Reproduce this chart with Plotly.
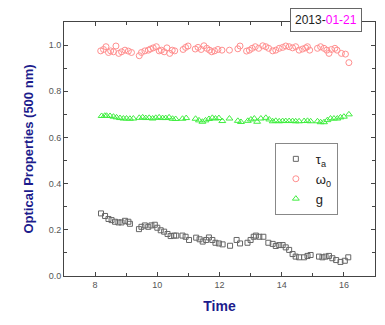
import plotly.graph_objects as go

# tau_a (squares)
tau_t = [8.19, 8.32, 8.43, 8.53, 8.64, 8.75, 8.85, 8.96, 9.07, 9.12, 9.41, 9.49, 9.60, 9.71, 9.81,
         9.92, 10.00, 10.11, 10.22, 10.33, 10.43, 10.54, 10.61, 10.81, 10.91, 11.02, 11.25, 11.36,
         11.46, 11.57, 11.66, 11.77, 11.87, 11.98, 12.10, 12.34, 12.55, 12.66, 12.90, 13.00, 13.10,
         13.17, 13.28, 13.41, 13.57, 13.71, 13.81, 13.92, 14.03, 14.13, 14.24, 14.35, 14.45, 14.56,
         14.72, 14.83, 14.93, 15.20, 15.31, 15.41, 15.52, 15.63, 15.75, 15.89, 16.03, 16.14]
tau_v = [0.271, 0.260, 0.247, 0.242, 0.235, 0.232, 0.232, 0.239, 0.235, 0.226, 0.203, 0.213, 0.219,
         0.213, 0.219, 0.222, 0.209, 0.198, 0.192, 0.182, 0.173, 0.175, 0.175, 0.175, 0.170, 0.156,
         0.166, 0.159, 0.149, 0.156, 0.167, 0.156, 0.144, 0.141, 0.137, 0.131, 0.156, 0.141, 0.144,
         0.156, 0.170, 0.175, 0.170, 0.170, 0.144, 0.139, 0.130, 0.134, 0.134, 0.124, 0.113, 0.095,
         0.084, 0.081, 0.081, 0.087, 0.091, 0.084, 0.081, 0.084, 0.087, 0.077, 0.069, 0.061, 0.066,
         0.081]

# omega_0 (circles)
w_t = [8.18, 8.27, 8.35, 8.43, 8.50, 8.59, 8.67, 8.76, 8.85, 8.96, 9.07, 9.17, 9.42, 9.49, 9.60,
       9.71, 9.78, 9.87, 9.97, 10.06, 10.13, 10.22, 10.31, 10.40, 10.48, 10.56, 10.83, 10.91, 10.99,
       11.22, 11.31, 11.41, 11.50, 11.59, 11.68, 11.75, 11.84, 11.95, 12.08, 12.32, 12.59, 12.66,
       12.87, 12.96, 13.05, 13.15, 13.26, 13.39, 13.49, 13.58, 13.71, 13.81, 13.92, 14.03, 14.13,
       14.24, 14.35, 14.45, 14.56, 14.67, 14.77, 14.83, 14.90, 15.15, 15.25, 15.36, 15.45, 15.52,
       15.60, 15.71, 15.78, 15.92, 16.05, 16.16]
w_v = [0.975, 0.981, 0.993, 0.968, 0.975, 0.971, 0.996, 0.964, 0.971, 0.978, 0.974, 0.968, 0.954,
       0.968, 0.975, 0.978, 0.983, 0.988, 0.993, 0.975, 0.978, 0.971, 0.988, 0.964, 0.978, 0.975,
       0.981, 0.990, 0.996, 0.983, 0.990, 0.981, 0.997, 0.986, 0.978, 0.971, 0.975, 0.981, 0.978,
       0.978, 0.984, 0.996, 0.974, 0.978, 0.986, 0.993, 0.986, 0.997, 0.993, 0.986, 0.975, 0.978,
       0.986, 0.990, 0.996, 0.993, 0.988, 0.993, 0.978, 0.983, 0.988, 0.993, 0.978, 0.986, 0.993,
       0.986, 0.978, 0.964, 0.981, 0.986, 0.978, 0.964, 0.961, 0.924]

# g (triangles)
g_t = [8.21, 8.31, 8.37, 8.48, 8.59, 8.69, 8.80, 8.91, 9.01, 9.12, 9.23, 9.42, 9.53, 9.63, 9.74,
       9.85, 9.95, 10.06, 10.17, 10.27, 10.38, 10.49, 10.59, 10.81, 10.93, 11.23, 11.34, 11.45,
       11.55, 11.66, 11.77, 11.87, 11.98, 12.09, 12.32, 12.59, 12.69, 12.91, 13.01, 13.12, 13.21,
       13.33, 13.49, 13.60, 13.71, 13.81, 13.92, 14.03, 14.13, 14.24, 14.35, 14.45, 14.56, 14.72,
       14.83, 14.93, 15.15, 15.25, 15.36, 15.47, 15.57, 15.68, 15.79, 15.89, 16.00, 16.16]
g_v = [0.693, 0.694, 0.694, 0.693, 0.690, 0.687, 0.684, 0.682, 0.682, 0.681, 0.682, 0.685, 0.687,
       0.684, 0.685, 0.682, 0.685, 0.687, 0.684, 0.684, 0.687, 0.681, 0.680, 0.681, 0.684, 0.681,
       0.674, 0.668, 0.674, 0.680, 0.685, 0.682, 0.684, 0.671, 0.682, 0.672, 0.667, 0.672, 0.678,
       0.682, 0.668, 0.682, 0.685, 0.678, 0.670, 0.672, 0.670, 0.671, 0.671, 0.671, 0.671, 0.670,
       0.670, 0.671, 0.672, 0.670, 0.670, 0.666, 0.666, 0.675, 0.682, 0.682, 0.682, 0.687, 0.690,
       0.700]

fig = go.Figure()
fig.add_trace(go.Scatter(x=tau_t, y=tau_v, mode="markers", name="τ<sub>a</sub>",
                         marker=dict(symbol="square-open", size=5, color="#666666",
                                     line=dict(width=1))))
fig.add_trace(go.Scatter(x=w_t, y=w_v, mode="markers", name="ω<sub>0</sub>",
                         marker=dict(symbol="circle-open", size=6, color="#ff8f8f",
                                     line=dict(width=1))))
fig.add_trace(go.Scatter(x=g_t, y=g_v, mode="markers", name="g",
                         marker=dict(symbol="triangle-up-open", size=6, color="#40ee40",
                                     line=dict(width=1))))

axis_common = dict(showline=True, linecolor="#444444", linewidth=1, mirror="ticks",
                   ticks="inside", ticklen=4, tickcolor="#444444", showgrid=False,
                   zeroline=False, tickfont=dict(family="Arial, Liberation Sans", size=9,
                                                 color="#555555"))

fig.update_layout(
    width=385, height=325,
    margin=dict(l=64, r=10, t=22, b=49),
    paper_bgcolor="white", plot_bgcolor="white",
    showlegend=True,
    legend=dict(x=0.678, y=0.524, xanchor="left", yanchor="top",
                bordercolor="#888888", borderwidth=1, bgcolor="white",
                font=dict(family="Arial, Liberation Sans", size=13, color="#222222"),
                itemwidth=30, tracegroupgap=0),
    xaxis=dict(range=[7, 17], tickvals=[8, 10, 12, 14, 16],
               minor=dict(ticks="inside", ticklen=3, dtick=1, tick0=7, tickcolor="#444444"),
               title=dict(text="<b>Time</b>", standoff=12,
                          font=dict(family="Arial, Liberation Sans", size=14, color="#1c1c8c")),
               **axis_common),
    yaxis=dict(range=[0, 1.1], tickvals=[0, 0.2, 0.4, 0.6, 0.8, 1.0], tickformat=".1f",
               minor=dict(ticks="inside", ticklen=3, dtick=0.1, tick0=0, tickcolor="#444444"),
               title=dict(text="<b>Optical Properties (500 nm)</b>", standoff=12,
                          font=dict(family="Arial, Liberation Sans", size=13, color="#1c1c8c")),
               **axis_common),
)

fig.add_annotation(xref="paper", yref="paper", x=0.842, y=1.006, xanchor="center", yanchor="middle",
                   text="2013-<span style='color:#ff00ff'>01-21</span>", showarrow=False,
                   font=dict(family="Arial, Liberation Sans", size=12, color="#222222"),
                   bgcolor="white", bordercolor="#666666", borderwidth=1, borderpad=4)

fig.write_html("out.html")
